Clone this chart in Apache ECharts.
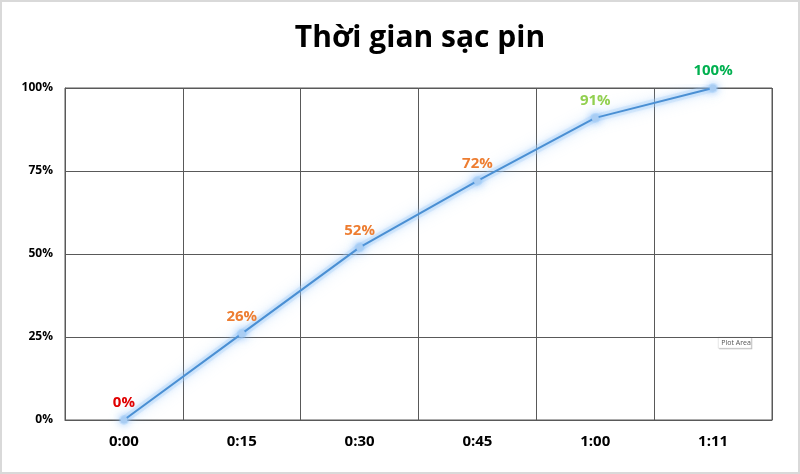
<!DOCTYPE html>
<html>
<head>
    <meta charset="UTF-8">
    <title>Thời gian sạc pin</title>
    <script src="https://cdn.jsdelivr.net/npm/echarts@6/dist/echarts.min.js"></script>
    <style>
        html, body { margin: 0; padding: 0; background: #fff; }
        #chart { width: 800px; height: 474px; }
    </style>
</head>
<body>
    <div id="chart"></div>
    <script>
        var categories = ['0:00', '0:15', '0:30', '0:45', '1:00', '1:11'];
        var charge = [0, 26, 52, 72, 91, 100];
        var labelColors = ['#e00000', '#ed7d31', '#ed7d31', '#ed7d31', '#92d050', '#00b050'];
        var yTicks = [0, 25, 50, 75, 100];

        var font = '"Open Sans", "Noto Sans", sans-serif';
        var chart = echarts.init(document.getElementById('chart'), null, { renderer: 'canvas' });

        var points = charge.map(function (v, i) {
            return {
                value: v,
                label: { color: labelColors[i] }
            };
        });

        chart.setOption({
            animation: false,
            backgroundColor: '#fff',
            title: {
                text: 'Thời gian sạc pin',
                left: 415,
                textAlign: 'center',
                top: 18,
                textStyle: { fontFamily: font, fontSize: 30, fontWeight: 'bold', color: '#000' }
            },
            grid: {
                left: 65, right: 28, top: 88, bottom: 54,
                show: true, borderColor: '#595959', borderWidth: 1
            },
            xAxis: {
                type: 'category',
                data: categories,
                boundaryGap: true,
                axisLine: { lineStyle: { color: '#595959' } },
                axisTick: { show: false },
                axisLabel: { fontFamily: font, fontSize: 15, fontWeight: 'bold', color: '#000', margin: 14 },
                splitLine: { show: true, lineStyle: { color: '#595959', width: 1 } }
            },
            yAxis: {
                type: 'value',
                min: yTicks[0],
                max: yTicks[yTicks.length - 1],
                interval: 25,
                axisLine: { show: true, lineStyle: { color: '#595959' } },
                axisTick: { show: false },
                axisLabel: {
                    fontFamily: font, fontSize: 12, fontWeight: 'bold', color: '#000', margin: 12,
                    formatter: '{value}%'
                },
                splitLine: { show: true, lineStyle: { color: '#595959', width: 1 } }
            },
            series: [
                {
                    // soft glow under the line
                    type: 'line',
                    data: charge,
                    silent: true,
                    symbol: 'circle',
                    symbolSize: 10,
                    lineStyle: {
                        color: 'rgba(175,212,250,0.3)', width: 8,
                        shadowColor: 'rgba(150,200,250,0.9)', shadowBlur: 14
                    },
                    itemStyle: {
                        color: 'rgba(160,205,250,0.3)',
                        shadowColor: 'rgba(150,200,250,0.9)', shadowBlur: 12
                    },
                    label: { show: false },
                    z: 1
                },
                {
                    type: 'line',
                    data: points,
                    symbol: 'circle',
                    symbolSize: 7,
                    lineStyle: {
                        color: '#4a8fd3', width: 2,
                        shadowColor: 'rgba(110,175,245,0.8)', shadowBlur: 6
                    },
                    itemStyle: {
                        color: '#a9cdf3',
                        shadowColor: 'rgba(110,175,245,1)', shadowBlur: 8
                    },
                    label: {
                        show: true,
                        position: 'top',
                        distance: 6,
                        fontFamily: font,
                        fontSize: 15,
                        fontWeight: 'bold',
                        formatter: '{c}%'
                    },
                    z: 3
                }
            ],
            graphic: [
                {
                    type: 'rect',
                    shape: { x: 1, y: 1, width: 798, height: 472 },
                    style: { fill: 'none', stroke: '#d9d9d9', lineWidth: 2 },
                    silent: true
                },
                {
                    type: 'group',
                    left: 718, top: 337,
                    children: [
                        {
                            type: 'rect',
                            shape: { x: 1, y: 1, width: 33, height: 11 },
                            style: { fill: '#bbb' }
                        },
                        {
                            type: 'rect',
                            shape: { x: 0, y: 0, width: 33, height: 11 },
                            style: { fill: '#fff', stroke: '#ccc', lineWidth: 0.5 }
                        },
                        {
                            type: 'text',
                            x: 3, y: 2,
                            style: { text: 'Plot Area', fontSize: 7, fontFamily: font, fill: '#555' }
                        }
                    ]
                }
            ]
        });
    </script>
</body>
</html>
